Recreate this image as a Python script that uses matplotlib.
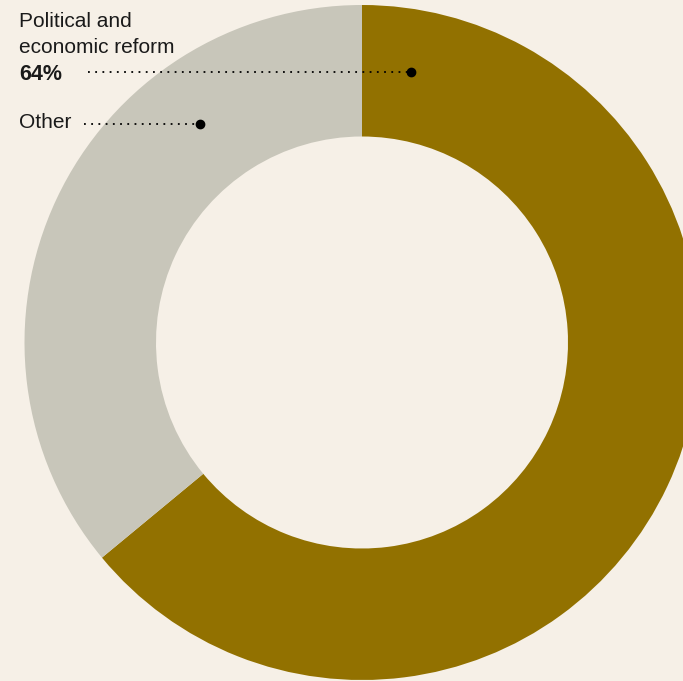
import matplotlib.pyplot as plt

# share of answers
labels = ['Political and\neconomic reform', 'Other']
values = [64, 36]
colors = ['#927100', '#c8c6ba']
bg = '#f6f0e7'

W, H = 683, 681
fig = plt.figure(figsize=(W / 100, H / 100), dpi=100, facecolor=bg)
ax = fig.add_axes([0, 0, 1, 1])
ax.set_facecolor(bg)

cx, cy = 362, H - 342.5
r_out, r_in = 337.5, 206
ax.pie(values, colors=colors, startangle=90, counterclock=False,
       center=(cx, cy), radius=r_out,
       wedgeprops=dict(width=r_out - r_in, linewidth=0))

ax.set_xlim(0, W)
ax.set_ylim(0, H)
ax.set_aspect('equal')
ax.axis('off')

txt = '#1a1a1a'
fnt = 'Liberation Sans'
for i, line in enumerate(labels[0].split('\n')):
    ax.text(19, H - 27 - 26 * i, line, fontsize=15, family=fnt, color=txt,
            va='baseline')
ax.text(19, H - 80, f'{values[0]}%', fontsize=15.5, family=fnt, color=txt,
        weight='bold', va='baseline')
ax.text(19, H - 128, labels[1], fontsize=15, family=fnt, color=txt,
        va='baseline')

# leader lines
for x0, x1, y in [(88, 411, H - 72), (84, 200, H - 124)]:
    ax.plot([x0, x1], [y, y], color='black', lw=1.3,
            linestyle=(0, (1, 3)))
    ax.plot(x1, y, 'o', color='black', ms=6)

fig.savefig('out.png', dpi=100, facecolor=bg)
